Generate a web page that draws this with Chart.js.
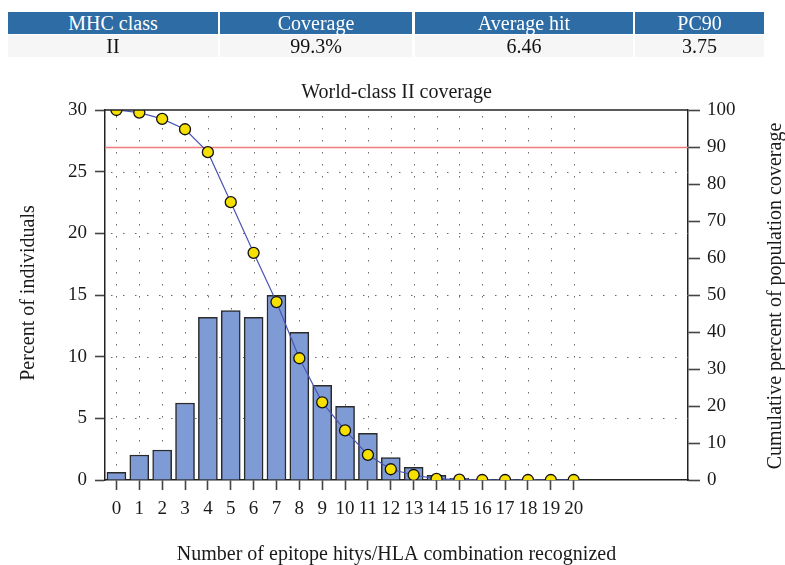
<!DOCTYPE html>
<html>
<head>
<meta charset="utf-8">
<script src="https://cdn.jsdelivr.net/npm/chart.js@4.4.1/dist/chart.umd.min.js"></script>
<style>
  html, body { margin:0; padding:0; background:#fff; width:785px; height:565px; overflow:hidden; }
  #wrap { position:relative; width:785px; height:565px; }
  canvas { position:absolute; left:0; top:0; }
  .cell { position:absolute; box-sizing:border-box; text-align:center; font-family:"Liberation Serif", serif; font-size:20px; line-height:22px; height:22px; }
  .hd { background:#2d6ca5; color:#fff; top:12px; }
  .rw { background:#f6f6f6; color:#111; top:35px; }
</style>
</head>
<body>
<div id="wrap">
  <canvas id="c" width="785" height="565"></canvas>
  <div id="tbl"></div>
</div>
<script>
// ---- data ----
const tableHeaders = ["MHC class", "Coverage", "Average hit", "PC90"];
const tableValues  = ["II", "99.3%", "6.46", "3.75"];
const hitCategories = ["0","1","2","3","4","5","6","7","8","9","10","11","12","13","14","15","16","17","18","19","20"];
const percentIndividuals = [0.62, 2.03, 2.43, 6.24, 13.19, 13.73, 13.19, 14.97, 11.97, 7.68, 5.97, 3.78, 1.81, 1.03, 0.38, 0.13, 0.05, 0.02, 0.01, 0, 0];
const cumulativeCoverage = [100, 99.3, 97.6, 94.8, 88.6, 75.1, 61.4, 48.1, 32.9, 21.0, 13.4, 6.8, 2.9, 1.35, 0.3, 0.1, 0, 0, 0, 0, 0];
const leftTicks = [0, 5, 10, 15, 20, 25, 30];
const rightTicks = [0, 10, 20, 30, 40, 50, 60, 70, 80, 90, 100];
const coverageThreshold = 90;
const chartTitle = "World-class II coverage";
const xTitle = "Number of epitope hitys/HLA combination recognized";
const yTitle = "Percent of individuals";
const y2Title = "Cumulative percent of population coverage";

// ---- table ----
const cols = [[8,218],[220,412],[415,633],[635,764]];
const tbl = document.getElementById('tbl');
tableHeaders.forEach((h,i)=>{
  const d = document.createElement('div'); d.className='cell hd';
  d.style.left = cols[i][0]+'px'; d.style.width=(cols[i][1]-cols[i][0])+'px'; d.textContent=h; tbl.appendChild(d);
  const r = document.createElement('div'); r.className='cell rw';
  r.style.left = cols[i][0]+'px'; r.style.width=(cols[i][1]-cols[i][0])+'px'; r.textContent=tableValues[i]; tbl.appendChild(r);
});

const FONT = "'Liberation Serif', serif";
const TXT = '#1a1a1a';

const decor = {
  id: 'decor',
  beforeDatasetsDraw(chart) {
    const {ctx, chartArea:a, scales:{x, y, y2}} = chart;
    ctx.save();
    ctx.strokeStyle = '#6a6a6a';
    ctx.lineWidth = 1;
    ctx.setLineDash([1.5, 10.5]);
    hitCategories.forEach((c,i)=>{
      const px = Math.round(x.getPixelForValue(i)) + 0.5;
      ctx.beginPath(); ctx.moveTo(px, a.top + 6); ctx.lineTo(px, a.bottom); ctx.stroke();
    });
    leftTicks.forEach(v=>{
      if (v===0 || v===30) return;
      const py = Math.round(y.getPixelForValue(v)) + 0.5;
      ctx.beginPath(); ctx.moveTo(a.left + 6, py); ctx.lineTo(a.right, py); ctx.stroke();
    });
    ctx.setLineDash([]);
    const ty = Math.round(y2.getPixelForValue(coverageThreshold)) + 0.5;
    ctx.strokeStyle = '#f27c7c'; ctx.lineWidth = 1.3;
    ctx.beginPath(); ctx.moveTo(a.left, ty); ctx.lineTo(a.right, ty); ctx.stroke();
    ctx.restore();
  },
  beforeDatasetDraw(chart, args) {
    const {ctx, chartArea:a} = chart;
    ctx.save();
    ctx.beginPath();
    ctx.rect(a.left, a.top, a.right - a.left, a.bottom - a.top);
    ctx.clip();
  },
  afterDatasetDraw(chart) {
    chart.ctx.restore();
  },
  afterDraw(chart) {
    const {ctx, chartArea:a} = chart;
    ctx.save();
    ctx.strokeStyle = '#222'; ctx.lineWidth = 1.5;
    ctx.beginPath(); ctx.moveTo(a.left, a.top); ctx.lineTo(a.right, a.top); ctx.stroke();
    ctx.fillStyle = TXT;
    ctx.font = "20px " + FONT;
    ctx.textAlign = 'center'; ctx.textBaseline = 'alphabetic';
    ctx.fillText(chartTitle, (a.left + a.right)/2, 98);
    ctx.fillText(xTitle, (a.left + a.right)/2, 560);
    ctx.save();
    ctx.translate(34, (a.top + a.bottom)/2 - 2);
    ctx.rotate(-Math.PI/2);
    ctx.fillText(yTitle, 0, 0);
    ctx.restore();
    ctx.save();
    ctx.translate(781, (a.top + a.bottom)/2 + 1);
    ctx.rotate(-Math.PI/2);
    ctx.fillText(y2Title, 0, 0);
    ctx.restore();
    ctx.restore();
  }
};

new Chart(document.getElementById('c'), {
  data: {
    datasets: [
      {
        type: 'line',
        yAxisID: 'y2',
        order: 0,
        clip: 0,
        data: cumulativeCoverage.map((v,i)=>({x:i, y:v})),
        borderColor: '#4b55b5',
        borderWidth: 1.2,
        tension: 0,
        pointRadius: 5.5,
        pointBackgroundColor: '#f6e000',
        pointBorderColor: '#111',
        pointBorderWidth: 1.3
      },
      {
        type: 'bar',
        yAxisID: 'y',
        order: 1,
        data: percentIndividuals.map((v,i)=>({x:i, y:v})),
        backgroundColor: '#7f9bd5',
        borderColor: '#2a2a2a',
        borderWidth: 1.5,
        barThickness: 19
      }
    ]
  },
  options: {
    responsive: false,
    animation: false,
    devicePixelRatio: 1,
    layout: { padding: { top: 110, left: 0, right: 0, bottom: 0 } },
    plugins: { legend: { display: false }, tooltip: { enabled: false }, title: { display: false } },
    scales: {
      x: {
        type: 'linear',
        offset: false,
        min: -0.5, max: 25,
        afterBuildTicks: s => { s.ticks = hitCategories.map((c,i)=>({value:i})); },
        afterFit: s => { s.height = 85; },
        ticks: {
          callback: (v) => hitCategories[v] ?? '',
          font: { family: FONT, size: 19 }, color: TXT, padding: 8, maxRotation: 0, autoSkip: false
        },
        grid: { offset: false, drawOnChartArea: false, tickLength: 10, tickColor: '#444', tickWidth: 1.6 },
        border: { color: '#222', width: 1.5 }
      },
      y: {
        position: 'left',
        min: 0, max: 30,
        afterBuildTicks: s => { s.ticks = leftTicks.map(v=>({value:v})); },
        afterFit: s => { s.width = 105; },
        ticks: { font: { family: FONT, size: 19 }, color: TXT, padding: 8 },
        grid: { drawOnChartArea: false, tickLength: 10, tickColor: '#444', tickWidth: 1.6 },
        border: { color: '#222', width: 1.5 }
      },
      y2: {
        position: 'right',
        min: 0, max: 100,
        afterBuildTicks: s => { s.ticks = rightTicks.map(v=>({value:v})); },
        afterFit: s => { s.width = 97; },
        ticks: { font: { family: FONT, size: 19 }, color: TXT, padding: 7 },
        grid: { drawOnChartArea: false, tickLength: 12, tickColor: '#444', tickWidth: 1.6 },
        border: { color: '#222', width: 1.5 }
      }
    }
  },
  plugins: [decor]
});
</script>
</body>
</html>
